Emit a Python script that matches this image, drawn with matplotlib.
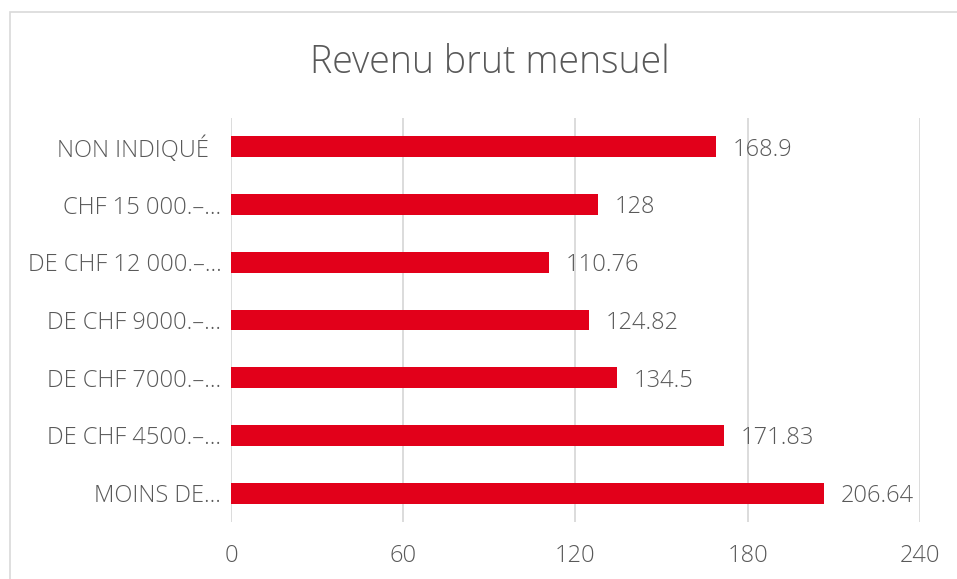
import matplotlib.pyplot as plt
from matplotlib.patches import Rectangle

# data (bottom to top)
categories = ["MOINS DE…", "DE CHF 4500.–…", "DE CHF 7000.–…", "DE CHF 9000.–…",
              "DE CHF 12 000.–…", "CHF 15 000.–…", "NON INDIQUÉ  "]
values = [206.64, 171.83, 134.5, 124.82, 110.76, 128, 168.9]
value_labels = ["206.64", "171.83", "134.5", "124.82", "110.76", "128", "168.9"]
x_ticks = [0, 60, 120, 180, 240]

red = "#E2001A"
text_gray = "#595959"
grid_gray = "#D9D9D9"

plt.rcParams['font.family'] = ['Open Sans', 'DejaVu Sans']

fig = plt.figure(figsize=(9.57, 5.79), dpi=100)
ax = fig.add_axes([0.2414, 0.0984, 0.7199, 0.6978])

y = list(range(len(categories)))
ax.barh(y, values, height=0.36, color=red, zorder=3)

for yi, v, lab in zip(y, values, value_labels):
    ax.annotate(lab, (v, yi), xytext=(12, -2), textcoords='offset points',
                va='center', ha='left', fontsize=17, color=text_gray,
                fontweight='light')

ax.set_xlim(0, 240)
ax.set_ylim(-0.5, len(categories) - 0.5)
ax.set_xticks(x_ticks)
ax.set_xticklabels([str(t) for t in x_ticks])
ax.set_yticks(y)
ax.set_yticklabels(categories)
ax.tick_params(axis='both', length=0, labelsize=17, labelcolor=text_gray)
ax.tick_params(axis='x', pad=16)
ax.tick_params(axis='y', pad=7)
for lbl in ax.get_xticklabels() + ax.get_yticklabels():
    lbl.set_fontweight('light')

ax.grid(axis='x', color=grid_gray, linewidth=1.3, zorder=0)
for s in ax.spines.values():
    s.set_visible(False)

fig.text(0.512, 0.891, "Revenu brut mensuel", ha='center', va='center',
         fontsize=27, color=text_gray, fontweight='light')

# chart frame
fig.patches.append(Rectangle((0.0104, -0.1), 1.1, 1.079, transform=fig.transFigure,
                             fill=False, edgecolor=grid_gray, linewidth=1.2))

fig.savefig("out.png", dpi=100)
